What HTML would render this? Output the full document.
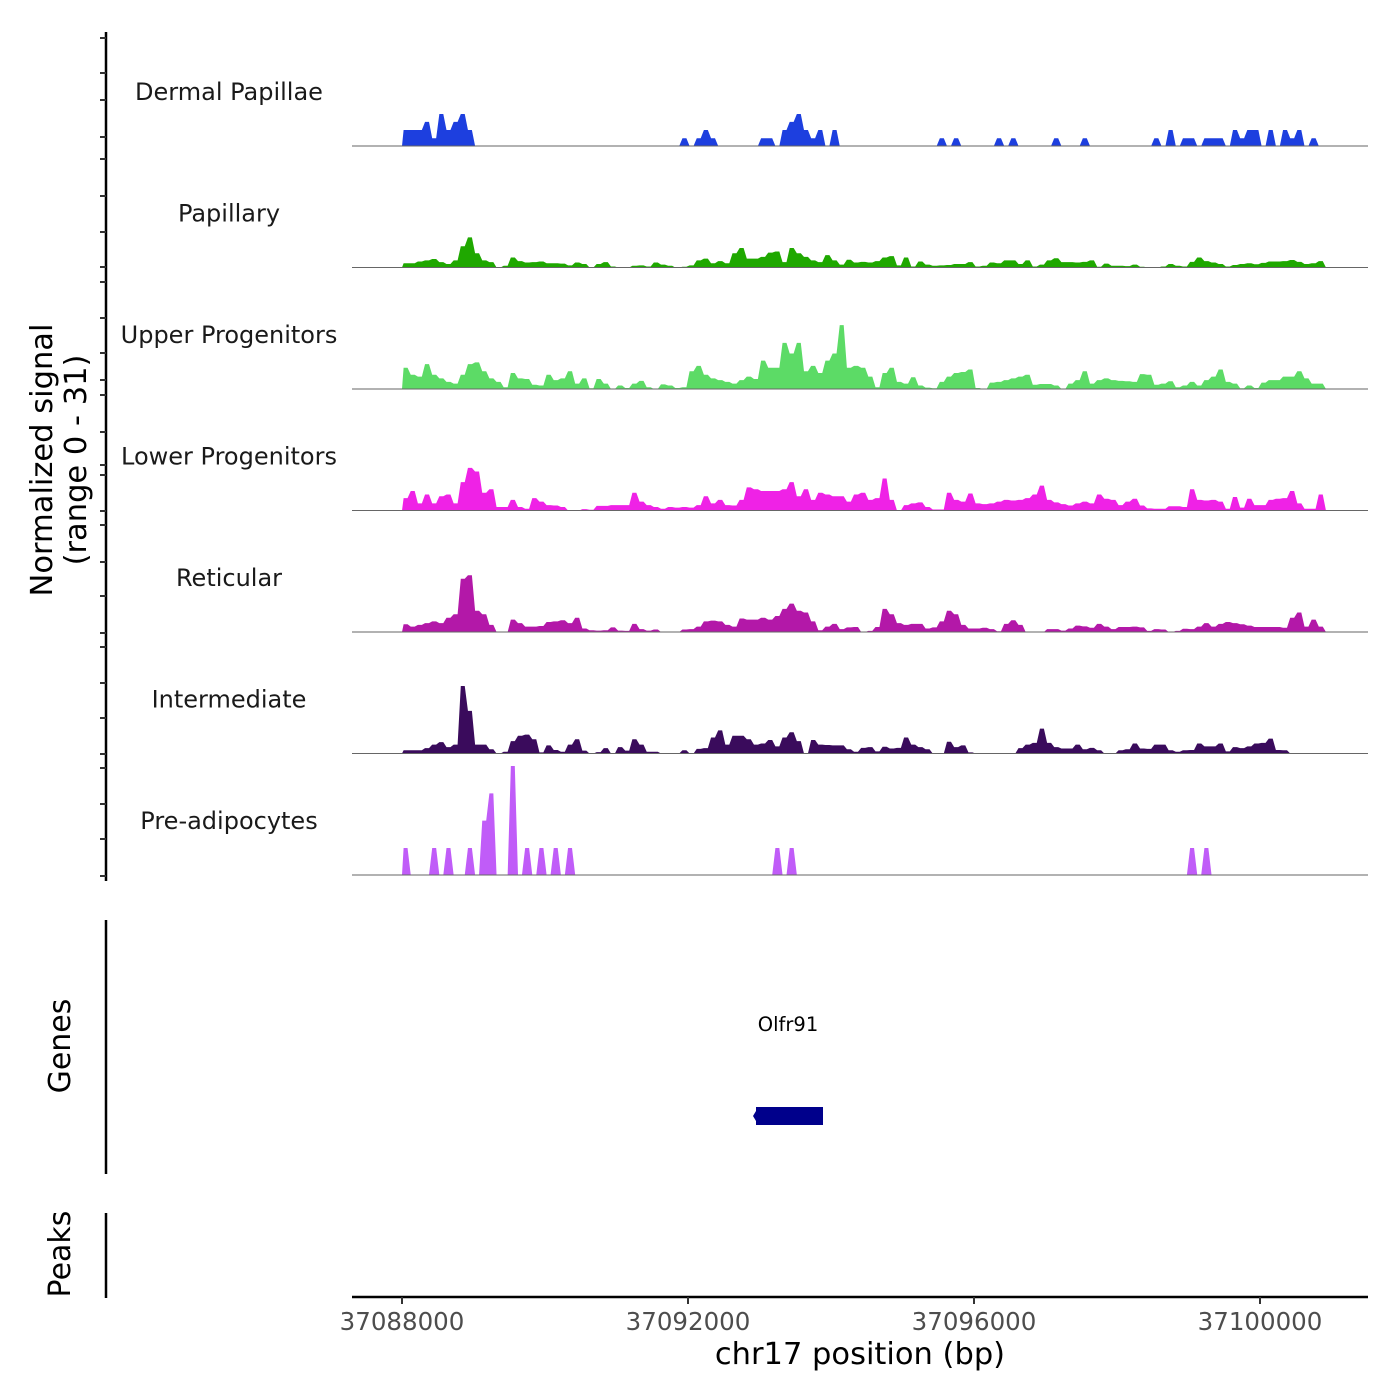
<!DOCTYPE html>
<html><head><meta charset="utf-8"><title>Coverage plot</title>
<style>
html,body{margin:0;padding:0;background:#fff;}
svg{display:block;font-family:"DejaVu Sans","Liberation Sans",sans-serif;}
</style></head>
<body>
<svg id="chart" width="1400" height="1400" viewBox="0 0 1400 1400" xmlns="http://www.w3.org/2000/svg">
<rect x="0" y="0" width="1400" height="1400" fill="#fff"/>
<g id="tracks"></g>
<g id="leftaxis"></g>
<text transform="translate(52,460) rotate(-90)" text-anchor="middle" font-size="30.5" fill="#000">Normalized signal</text>
<text transform="translate(86,460) rotate(-90)" text-anchor="middle" font-size="30.5" fill="#000">(range 0 - 31)</text>
<line x1="106" y1="920" x2="106" y2="1174" stroke="#000" stroke-width="2.5"/>
<text transform="translate(70,1046) rotate(-90)" text-anchor="middle" font-size="30" fill="#000">Genes</text>
<text x="788" y="1031" text-anchor="middle" font-size="19.5" fill="#000">Olfr91</text>
<rect x="756" y="1107" width="67" height="18" fill="#00008b"/>
<path d="M756,1111 L753,1116 L756,1121 Z" fill="#00008b"/>
<line x1="106" y1="1213" x2="106" y2="1298" stroke="#000" stroke-width="2.5"/>
<text transform="translate(70,1254) rotate(-90)" text-anchor="middle" font-size="30" fill="#000">Peaks</text>
<g id="xaxis"></g>
<text x="860" y="1364" text-anchor="middle" font-size="30.5" fill="#000">chr17 position (bp)</text>
</svg>
<script>
const regionStart = 37088000;
const binSize = 100;
const trackNames = ["Dermal Papillae","Papillary","Upper Progenitors","Lower Progenitors","Reticular","Intermediate","Pre-adipocytes"];
const trackColors = ["#1d3fdf","#1fa800","#5cdb66","#ef22e6","#b318a8","#3a0b5c","#c05cf8"];
const xTicks = [37088000,37092000,37096000,37100000];
const xTickLabels = ["37088000","37092000","37096000","37100000"];
const dermalPapillae = [4.5,4.5,4.5,6.8,2.2,9,4.5,6.8,9,4.5,
0,0,0,0,0,0,0,0,0,0, 0,0,0,0,0,0,0,0,0,0,
0,0,0,0,0,0,0,0,0,2.2, 0,2.2,4.5,2.2,0,0,0,0,0,0,
2.2,2.2,0,4.5,6.8,9,4.5,2.2,4.5,0, 4.5,0,0,0,0,0,0,0,0,0,
0,0,0,0,0,2.2,0,2.2,0,0, 0,0,0,2.2,0,2.2,0,0,0,0,
0,2.2,0,0,0,2.2,0,0,0,0, 0,0,0,0,0,2.2,0,4.5,0,2.2,
2.2,0,2.2,2.2,2.2,0,4.5,2.2,4.5,4.5, 0,4.5,0,4.5,2.2,4.5,0,2.2,0,0];
const papillary = [1.2,1.2,1.7,2,2.4,1.5,1,2,6,8.5,
4,2,1.5,0,0.5,2.8,1.8,1.4,1.5,1.7, 1.2,1.2,1.1,0.6,1.4,1,0,1,1.5,0.3,
0,0,0.5,0.6,0.3,1.4,0.8,0.5,0,0.2, 0.6,2,2.5,1.2,1.8,1.2,4,5.5,2.5,2.5,
3,4.2,4.5,1.5,5.5,4,3,2,1.5,3.5, 2,0.8,2.2,1.4,1.6,1.4,1.8,2.8,3.2,0.6,
2.8,0.3,1.7,0.8,0.5,0.6,0.7,1,1,1.5, 0.3,0.5,1.4,1.2,2,2,1,2,0.3,0.8,
2,2.6,1.5,1.5,1.4,1.6,2,0.2,1.1,0.5, 0.5,0.4,0.8,0.2,0,0,0.3,1,0.5,0.3,
1.6,2.8,1.8,1.4,1,0.3,0.7,1,1.2,0.9, 1.3,1.7,1.7,1.8,2.1,1.6,1,1.2,1.8,0];
const upperProgenitors = [6,4,3.5,7,4,3,2,1.5,4,7,
7.5,5,3,2,0.5,4.5,3,2.8,1.2,1, 4,2.5,3,5,1.5,3,0.2,2.8,1.5,0,
1,0.3,1.5,2.3,0.5,0,1.3,1,0.3,0.5, 5,6.5,4,3,2.5,2,1.5,2.5,3.5,2.8,
8,6,6,13,10,13,5,6.5,4.5,8, 10,18,6,6.5,6,3.5,0.5,4.5,6,2,
1.5,3.3,1,0.4,0.2,2,3.5,4.5,4.8,5.5, 0.3,0,1.8,2,2.5,3,3.5,4,1.2,1.4,
1.4,1,0,1.5,2.5,5,1.5,2.5,3,2.5, 2.3,2.2,2,4.2,4,1.2,1.5,2.2,0.5,1,
2,1,2.5,3.5,5.5,2,1.5,0.2,1,0.3, 1.8,2.5,2.5,3.5,3.5,5,3,1.5,1.5,0];
const lowerProgenitors = [3.5,5.5,2,4.5,2,4,4.5,2,8,12,
11,5,6,1,1,3,1,0.5,3.5,2.5, 1.5,1.4,1,0,0,0.4,0.2,1.3,1.3,1.5,
1.5,1.5,5,2.5,1.5,1,0.5,1,0.8,1, 0.8,1.5,4,2,3,1.5,1.4,3,6.5,6,
5.5,5.5,5.5,6,8,4,6,3,5,4.5, 4,4,2.5,4.5,5,3,3.5,9,3,0,
1.5,2,2.3,1,0.3,0.3,5,3,2.5,4.8, 2,1.8,2,2.5,3,2.8,3,3.5,4.5,7,
3,2.3,1.8,1.4,2,2.5,2,4.5,3.3,3, 1.5,2.5,3.3,1.4,0.6,0.5,0.5,1.2,1.2,1,
6,3,2.8,3,2.5,0.5,3.8,0.8,3.3,1.5, 1.5,3,3.3,3.5,5.5,2,0.5,0.5,4.5,0];
const reticular = [2.2,1.5,2,2.5,3,2.5,4,5,15,16,
6,5,2,0,0,3.5,2.5,1.5,1.5,1.7, 2.8,3,3.3,2.5,4,1,0.5,0.4,0.5,1.3,
0.4,0.3,2.3,0.8,0.4,0.7,0,0,0,0.7, 0.8,1.5,3,3.2,3,2,1.5,3.8,3.5,3.5,
4,3.5,4.5,6.5,8,6,5.5,3,0.5,1.5, 2.3,0.8,1.3,1.4,0,0.3,1.4,6.5,5,2.5,
2,2.3,2.3,1,1.3,3,6,5,2,1, 1,1.2,0.8,0.2,2.3,3.3,2,0,0,0,
0.8,0.8,0.4,1,1.8,1.6,1.2,2.3,1.5,0.8, 1.4,1.4,1.5,1.3,0.3,0.8,0.7,0,0.3,0.9,
0.8,1.5,2.5,1.5,2.3,2.8,2.5,2.2,1.8,1.4, 1.4,1.4,1.4,1.2,4,5.5,1.5,3.5,1.5,0];
const intermediate = [0.9,0.9,0.9,1.5,2.5,3.2,1.8,2.5,19,12,
2.5,2.5,1.2,0,0.5,3.5,5,5.3,4,0.3, 2.3,1,0.5,2.5,4,0.8,0,0.4,1.5,0,
1.8,0.8,4,2.5,0.5,0.5,0,0,0,0.9, 0,1.3,1.5,4.5,6.5,2.5,5,5,4,2.5,
2.8,3.8,2,4.5,6,3.5,0,3.8,2.5,2.4, 2.3,2.3,1.2,0.5,1.6,1.8,0.6,1.9,1.4,1.6,
4.5,2.5,1.8,1.2,0,0,3.3,1.8,2.3,0.3, 0,0,0,0,0,0,1.5,2.5,3,7,
3,1.8,1.4,1.4,2.5,1.2,1.6,0.9,0,0, 0.9,1.2,2.8,1.4,1.3,2.5,2.5,0.9,0.5,0.9,
1,2.8,2,2,2.8,0.6,1.8,1.5,2,2.8, 3,4.2,1,0.9,0,0,0,0,0,0];
const preAdipocytes = [7.6,0,0,0,7.6,0,7.6,0,0,7.6,
0,15.3,23,0,0,30.7,0,7.6,0,7.6, 0,7.6,0,7.6,0,0,0,0,0,0,
0,0,0,0,0,0,0,0,0,0, 0,0,0,0,0,0,0,0,0,0,
0,0,7.6,0,7.6,0,0,0,0,0, 0,0,0,0,0,0,0,0,0,0,
0,0,0,0,0,0,0,0,0,0, 0,0,0,0,0,0,0,0,0,0,
0,0,0,0,0,0,0,0,0,0, 0,0,0,0,0,0,0,0,0,0,
7.6,0,7.6,0,0,0,0,0,0,0, 0,0,0,0,0,0,0,0,0,0];
const trackValues = [dermalPapillae,papillary,upperProgenitors,lowerProgenitors,reticular,intermediate,preAdipocytes];
const leftTickYs = [38,73,100,137,159,196,232,267,282,318,353,380,395,432,465,475,511,525,562,596,633,647,683,718,754,768,804,839,876];

const NS = "http://www.w3.org/2000/svg";
function xScale(bp){ return 402 + (bp - regionStart) * 286 / 4000; }
const trackTop = 32, trackH = 121.5, pxPerUnit = 3.55;
function baseY(t){ return trackTop + (t + 1) * trackH - 7.5; }
function yScale(t, v){ return baseY(t) - v * pxPerUnit; }
function mk(tag, attrs, parent){
  const el = document.createElementNS(NS, tag);
  for (const k in attrs) el.setAttribute(k, attrs[k]);
  parent.appendChild(el);
  return el;
}
const gTracks = document.getElementById('tracks');
trackNames.forEach((name, t) => {
  const g = mk('g', {}, gTracks);
  
  
  const vals = trackValues[t];
  const b = baseY(t);
  let d = 'M' + xScale(regionStart).toFixed(2) + ',' + b;
  vals.forEach((v, i) => {
    const x0 = xScale(regionStart + i * binSize), x1 = xScale(regionStart + (i + 1) * binSize);
    const y = yScale(t, v).toFixed(2);
    d += ' L' + (x0 + 1.6).toFixed(2) + ',' + y + ' L' + (x1 - 1.6).toFixed(2) + ',' + y;
  });
  d += ' L' + xScale(regionStart + vals.length * binSize).toFixed(2) + ',' + b + ' Z';
  const area = mk('path', {d: d, fill: trackColors[t], stroke: 'none'}, g);
  
  
  const base = mk('line', {x1: 352, x2: 1368, y1: b, y2: b, stroke: '#666', 'stroke-width': 1}, g);
  
  
  const lab = mk('text', {x: 229, y: baseY(t) - 46, 'text-anchor': 'middle', 'font-size': 24, fill: '#1a1a1a'}, g);
  lab.textContent = name;
  
  
});
const gL = document.getElementById('leftaxis');
const axl = mk('line', {x1: 106, x2: 106, y1: 32, y2: 881, stroke: '#000', 'stroke-width': 2.5}, gL);


leftTickYs.forEach(y => {
  const tk = mk('line', {x1: 100, x2: 106, y1: y, y2: y, stroke: '#333', 'stroke-width': 2}, gL);
  
  
});
const gX = document.getElementById('xaxis');
const xl = mk('line', {x1: 352, x2: 1368, y1: 1297, y2: 1297, stroke: '#000', 'stroke-width': 2.5}, gX);


xTicks.forEach((bp, i) => {
  const x = xScale(bp);
  const tk = mk('line', {x1: x, x2: x, y1: 1297, y2: 1304, stroke: '#333', 'stroke-width': 2}, gX);
  
  
  const tl = mk('text', {x: x, y: 1330, 'text-anchor': 'middle', 'font-size': 24.5, fill: '#4d4d4d'}, gX);
  tl.textContent = xTickLabels[i];
  
  
});
</script>
</body></html>
